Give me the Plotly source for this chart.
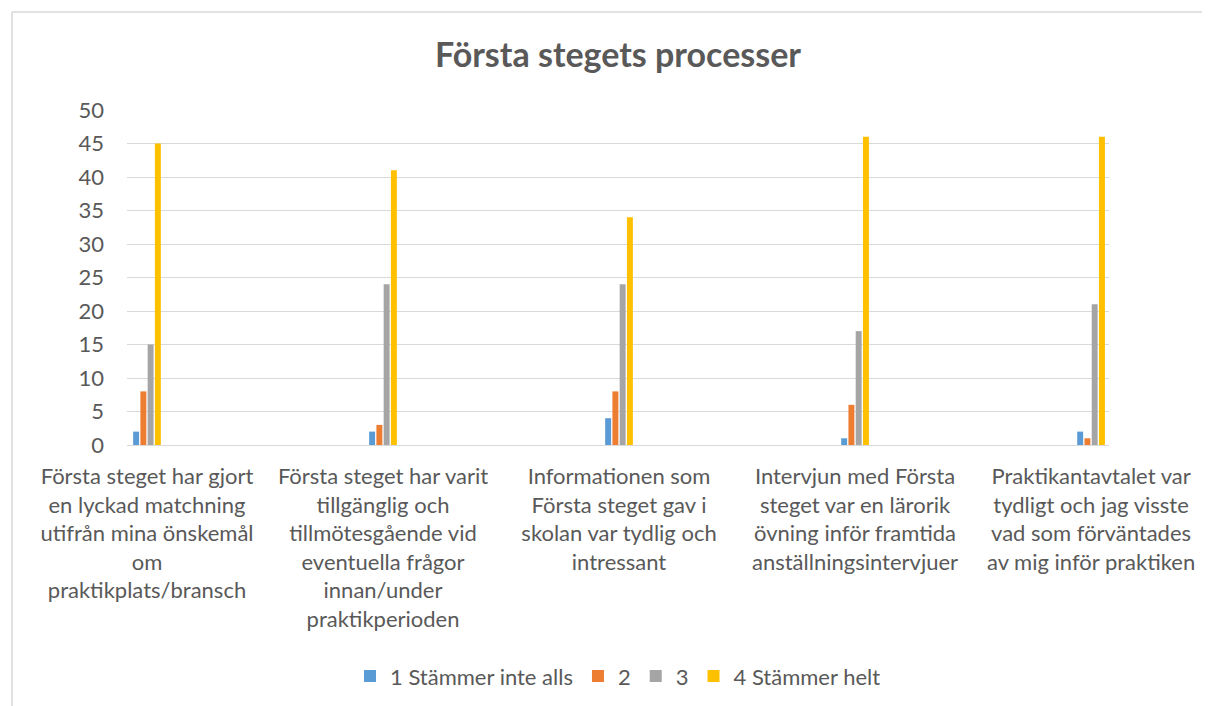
import plotly.graph_objects as go

categories = [
    "Första steget har gjort<br>en lyckad matchning<br>utifrån mina önskemål<br>om<br>praktikplats/bransch",
    "Första steget har varit<br>tillgänglig och<br>tillmötesgående vid<br>eventuella frågor<br>innan/under<br>praktikperioden",
    "Informationen som<br>Första steget gav i<br>skolan var tydlig och<br>intressant",
    "Intervjun med Första<br>steget var en lärorik<br>övning inför framtida<br>anställningsintervjuer",
    "Praktikantavtalet var<br>tydligt och jag visste<br>vad som förväntades<br>av mig inför praktiken",
]
series_names = ["1 Stämmer inte alls", "2", "3", "4 Stämmer helt"]
s1 = [2, 2, 4, 1, 2]
s2 = [8, 3, 8, 6, 1]
s3 = [15, 24, 24, 17, 21]
s4 = [45, 41, 34, 46, 46]
y_ticks = [0, 5, 10, 15, 20, 25, 30, 35, 40, 45, 50]

colors = ["#5B9BD5", "#ED7D31", "#A5A5A5", "#FFC000"]
FONT = "Lato"
TXT = "#595959"

fig = go.Figure()
for name, vals, col in zip(series_names, [s1, s2, s3, s4], colors):
    fig.add_trace(go.Bar(
        name=name, x=categories, y=vals,
        marker=dict(color=col, line=dict(width=0)),
    ))

fig.update_layout(
    width=1202, height=698,
    margin=dict(l=119, r=101, t=102, b=261, autoexpand=False),
    paper_bgcolor="white", plot_bgcolor="white",
    barmode="group", bargap=0.877, bargroupgap=0.18,
    font=dict(family=FONT, color=TXT, size=22),
    title=dict(text="<b>Första stegets processer</b>", x=0.5, xref="paper", xanchor="center",
               y=0.9327, yref="container", yanchor="middle",
               font=dict(family=FONT, size=34, color=TXT)),
    xaxis=dict(type="category", range=[-0.0847, 4.076], showgrid=False, showline=False,
               automargin=False,
               ticks="", tickfont=dict(size=22, color=TXT), ticklabelstandoff=16, fixedrange=True),
    yaxis=dict(range=[0, 50], tickvals=y_ticks, showgrid=True, gridcolor="#D9D9D9", gridwidth=1,
               automargin=False,
               zeroline=True, zerolinecolor="#D9D9D9", zerolinewidth=1, showline=False,
               ticks="", tickfont=dict(size=22, color=TXT), ticklabelstandoff=22),
    legend=dict(orientation="h", x=0.5, xanchor="center", y=-0.69, yanchor="middle",
                font=dict(size=22, color=TXT), itemwidth=30, traceorder="normal"),
    showlegend=True,
)

# chart border (cropped at right and bottom)
fig.add_shape(type="line", xref="paper", yref="paper", x0=-0.1171, x1=1.3, y0=1.2925, y1=1.2925,
              line=dict(color="#D9D9D9", width=1.5))
fig.add_shape(type="line", xref="paper", yref="paper", x0=-0.1171, x1=-0.1171, y0=1.2925, y1=-0.9,
              line=dict(color="#D9D9D9", width=1.5))

fig.write_html("out.html")
